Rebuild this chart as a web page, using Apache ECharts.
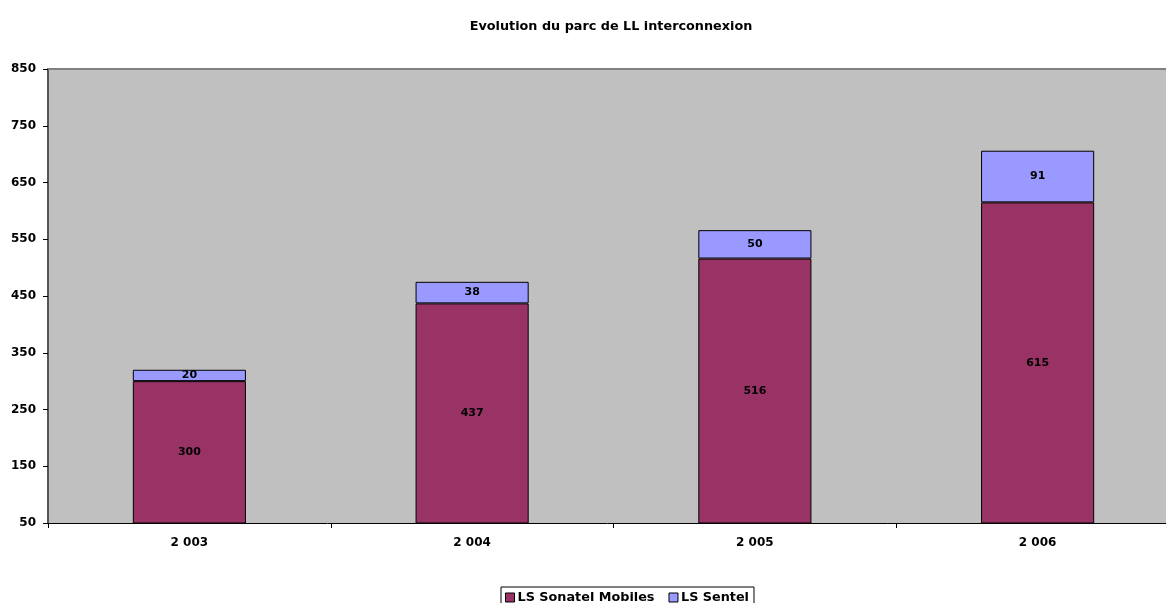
<!DOCTYPE html>
<html><head><meta charset="utf-8">
<script src="https://cdn.jsdelivr.net/npm/echarts@6/dist/echarts.min.js"></script>
<style>html,body{margin:0;padding:0;background:#fff}#c{width:1166px;height:603px}</style>
</head><body><div id="c"></div>
<script>
const categories = ['2 003', '2 004', '2 005', '2 006'];
const sonatelMobiles = [300, 437, 516, 615];
const sentel = [20, 38, 50, 91];
const yTicks = [50, 150, 250, 350, 450, 550, 650, 750, 850];

const chart = echarts.init(document.getElementById('c'));
const font = 'DejaVu Sans, Verdana, sans-serif';
const labelStyle = {show: true, position: 'inside', color: '#000', fontFamily: font, fontWeight: 'bold', fontSize: 11};
chart.setOption({
  animation: false,
  title: {text: 'Evolution du parc de LL interconnexion', left: 606, textAlign: 'center', top: 15,
    textStyle: {fontFamily: font, fontWeight: 'bold', fontSize: 12.8, color: '#000'}},
  grid: {left: 48, top: 69, width: 1131, height: 454, outerBoundsMode: 'none', containLabel: false,
    show: true, backgroundColor: '#C0C0C0', borderWidth: 0},
  legend: {top: 587, left: 501, itemWidth: 9, itemHeight: 9, itemGap: 14, padding: [4, 5, 6, 4],
    borderColor: '#000', borderWidth: 1,
    itemStyle: {borderColor: '#000', borderWidth: 1},
    textStyle: {fontFamily: font, fontWeight: 'bold', fontSize: 12.8, color: '#000', padding: [0, 0, 0, -2]},
    data: [{name: 'LS Sonatel Mobiles', icon: 'rect'}, {name: 'LS Sentel', icon: 'rect'}]},
  xAxis: {type: 'category', data: categories,
    axisLine: {lineStyle: {color: '#000', width: 1}},
    axisTick: {show: true, length: 5, lineStyle: {color: '#000'}},
    axisLabel: {margin: 14, fontFamily: font, fontWeight: 'bold', fontSize: 12, color: '#000'}},
  yAxis: {type: 'value', min: 50, max: 850, interval: 100,
    axisLine: {show: true, lineStyle: {color: '#555', width: 2}},
    axisTick: {show: true, length: 5, lineStyle: {color: '#000'}},
    splitLine: {show: false},
    axisLabel: {margin: 12, fontFamily: font, fontWeight: 'bold', fontSize: 12, color: '#000',
      formatter: v => yTicks.includes(v) ? String(v) : ''}},
  series: [
    {name: 'LS Sonatel Mobiles', type: 'bar', stack: 'a', data: sonatelMobiles, barWidth: '40%',
      itemStyle: {color: '#993366', borderColor: '#000', borderWidth: 1}, label: labelStyle},
    {name: 'LS Sentel', type: 'bar', stack: 'a', data: sentel, barWidth: '40%',
      itemStyle: {color: '#9999FF', borderColor: '#000', borderWidth: 1}, label: labelStyle},
    {type: 'line', data: [], markLine: {silent: true, symbol: 'none', label: {show: false},
      lineStyle: {color: '#808080', width: 2, type: 'solid'}, data: [{yAxis: 850}]}}
  ]
});
</script></body></html>
